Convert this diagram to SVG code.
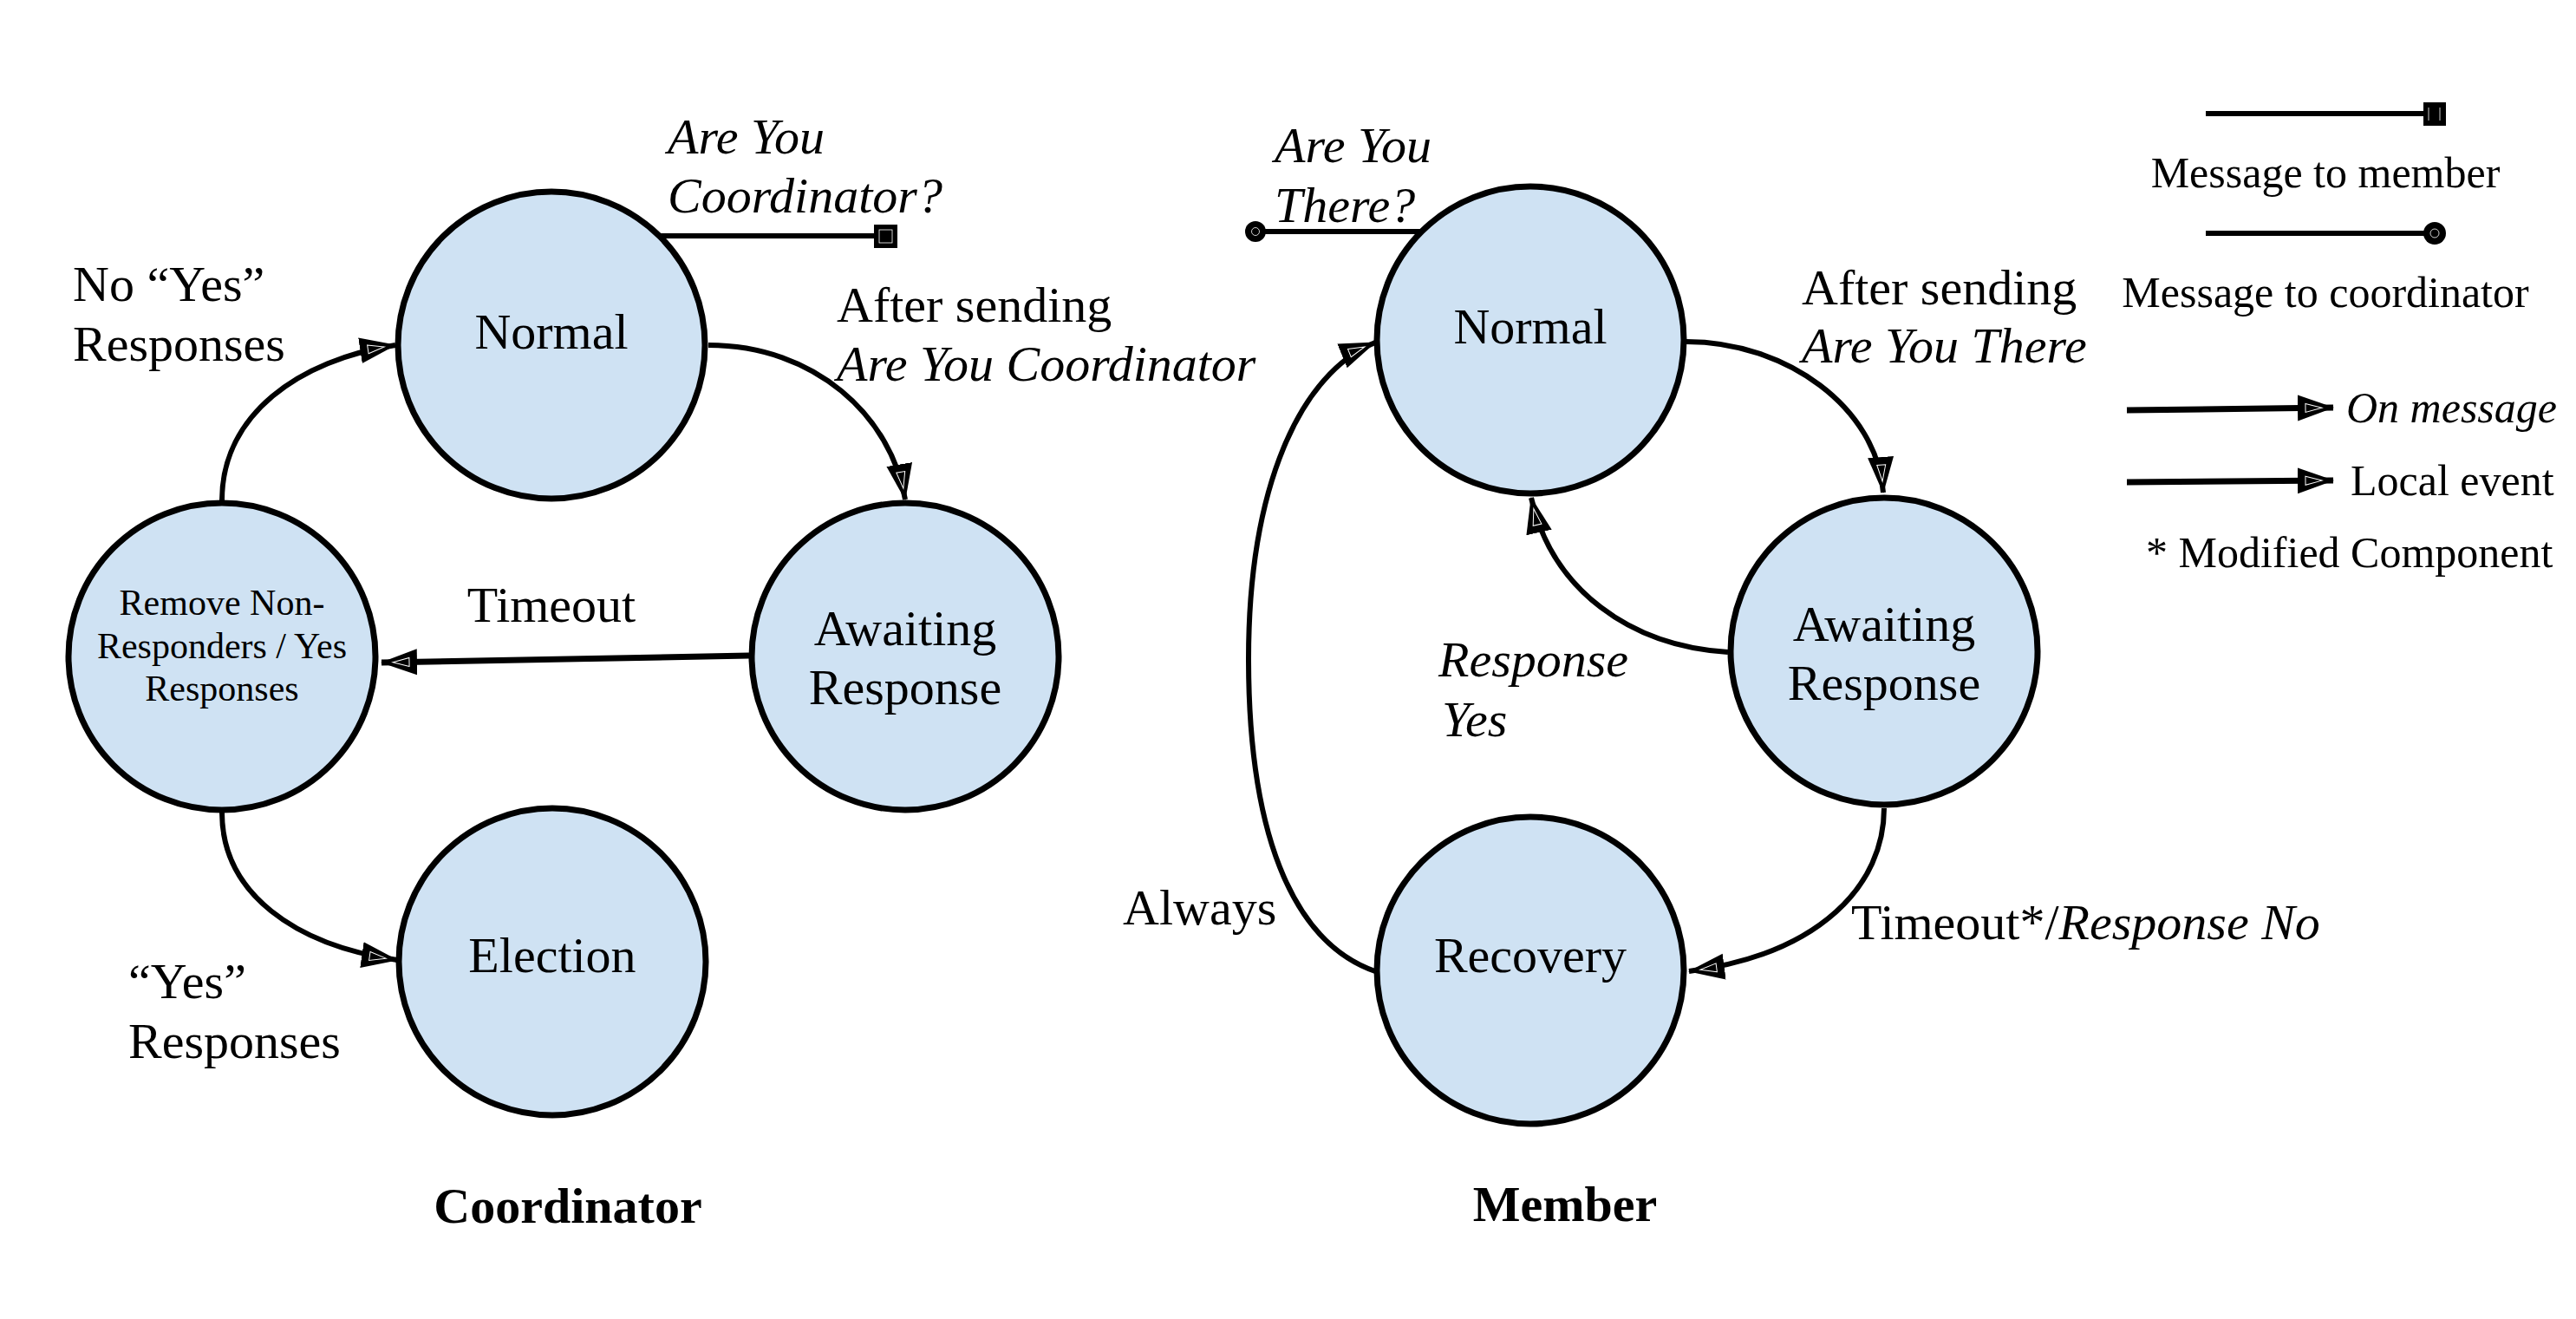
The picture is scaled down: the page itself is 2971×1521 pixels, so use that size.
<svg xmlns="http://www.w3.org/2000/svg" width="2971" height="1521" viewBox="0 0 2971 1521">
<style>
  .node { fill: #cfe2f3; stroke: #000; stroke-width: 7; }
  .t { font-family: "Liberation Serif", "Times New Roman", serif; font-size: 58px; fill: #000; }
  .i { font-style: italic; }
  .m { text-anchor: middle; }
  .small { font-size: 42px; }
  .leg { font-size: 50px; }
  .b { font-weight: bold; }
  .conn { fill: none; stroke: #000; stroke-width: 6; marker-end: url(#arr); }
  .thick { stroke-width: 7; }
  .msg { fill: none; stroke: #000; stroke-width: 6; }
</style>
<defs>
  <marker id="arr" markerUnits="userSpaceOnUse" markerWidth="44" markerHeight="32" viewBox="0 0 44 32" refX="41" refY="16" orient="auto">
    <path d="M0,1 L42,16 L0,31 z" fill="#000"/>
    <path d="M9,11 L28,16 L9,21 z" fill="none" stroke="#fff" stroke-width="1"/>
  </marker>
</defs>
<rect width="2971" height="1521" fill="#fff"/>

<g id="connectors">
  <path class="conn" d="M256,577 C256,478 345,415 456,398"/>
  <path class="conn" d="M817,398 C940,398 1028,480 1044,576"/>
  <path class="conn thick" d="M864,756 L440,764"/>
  <path class="conn" d="M256,937 C256,1030 340,1090 458,1107"/>
  <path class="conn" d="M1945,394 C2060,394 2165,470 2172,568"/>
  <path class="conn" d="M1993,752 C1880,745 1790,680 1766,574"/>
  <path class="conn" d="M2173,932 C2173,1020 2100,1100 1948,1120"/>
  <path class="conn" d="M1586,1120 C1500,1090 1440,980 1440,760 C1440,560 1500,430 1586,395"/>
  <!-- message lines -->
  <line class="msg" x1="760" y1="272" x2="1010" y2="272"/>
  <rect x="1008" y="259" width="27" height="27" fill="#000"/>
  <rect x="1014" y="265" width="15" height="15" fill="none" stroke="#fff" stroke-width="0.8"/>
  <line class="msg" x1="1448" y1="267" x2="1640" y2="267"/>
  <circle cx="1448" cy="267" r="12" fill="#000"/>
  <circle cx="1448" cy="267" r="4.5" fill="none" stroke="#fff" stroke-width="0.8"/>
</g>

<g id="c-normal">
  <circle class="node" cx="636" cy="398" r="177"/>
  <text class="t m" x="636" y="402">Normal</text>
</g>
<g id="c-await">
  <circle class="node" cx="1044" cy="757" r="177"/>
  <text class="t m" x="1044" y="744">Awaiting</text>
  <text class="t m" x="1044" y="812">Response</text>
</g>
<g id="c-remove">
  <circle class="node" cx="256" cy="757" r="177"/>
  <text class="t m small" x="256" y="709">Remove Non-</text>
  <text class="t m small" x="256" y="759">Responders / Yes</text>
  <text class="t m small" x="256" y="808">Responses</text>
</g>
<g id="c-election">
  <circle class="node" cx="637" cy="1109" r="177"/>
  <text class="t m" x="637" y="1121">Election</text>
</g>
<g id="m-normal">
  <circle class="node" cx="1765" cy="392" r="177"/>
  <text class="t m" x="1765" y="396">Normal</text>
</g>
<g id="m-await">
  <circle class="node" cx="2173" cy="751" r="177"/>
  <text class="t m" x="2173" y="739">Awaiting</text>
  <text class="t m" x="2173" y="807">Response</text>
</g>
<g id="m-recovery">
  <circle class="node" cx="1765" cy="1119" r="177"/>
  <text class="t m" x="1765" y="1121">Recovery</text>
</g>

<g id="labels">
  <text class="t i" x="770" y="177">Are You</text>
  <text class="t i" x="770" y="245">Coordinator?</text>
  <text class="t" x="84" y="347">No “Yes”</text>
  <text class="t" x="84" y="416">Responses</text>
  <text class="t" x="965" y="371">After sending</text>
  <text class="t i" x="965" y="439">Are You Coordinator</text>
  <text class="t m" x="636" y="717">Timeout</text>
  <text class="t" x="148" y="1151">“Yes”</text>
  <text class="t" x="148" y="1220">Responses</text>
  <text class="t b m" x="655" y="1410">Coordinator</text>

  <text class="t i" x="1470" y="187">Are You</text>
  <text class="t i" x="1470" y="256">There?</text>
  <text class="t" x="2078" y="351">After sending</text>
  <text class="t i" x="2078" y="418">Are You There</text>
  <text class="t i" x="1659" y="780">Response</text>
  <text class="t i" x="1663" y="849">Yes</text>
  <text class="t" x="1295" y="1066">Always</text>
  <text class="t" x="2135" y="1083">Timeout*/<tspan font-style="italic">Response No</tspan></text>
  <text class="t b m" x="1805" y="1408">Member</text>
</g>

<g id="legend">
  <line class="msg" x1="2544" y1="131" x2="2797" y2="131"/>
  <rect x="2795" y="118" width="26" height="27" fill="#000"/>
  <line x1="2801" y1="124" x2="2801" y2="139" stroke="#fff" stroke-width="0.8"/>
  <line x1="2814" y1="124" x2="2814" y2="139" stroke="#fff" stroke-width="0.8"/>
  <text class="t leg m" x="2682" y="216">Message to member</text>
  <line class="msg" x1="2544" y1="269" x2="2808" y2="269"/>
  <circle cx="2808" cy="269" r="13" fill="#000"/>
  <circle cx="2808" cy="269" r="5" fill="none" stroke="#fff" stroke-width="0.8"/>
  <text class="t leg m" x="2682" y="354">Message to coordinator</text>
  <path class="conn thick" d="M2453,473 L2691,470"/>
  <text class="t leg i" x="2706" y="487">On message</text>
  <path class="conn thick" d="M2453,556 L2691,554"/>
  <text class="t leg" x="2711" y="571">Local event</text>
  <text class="t leg" x="2475" y="654">* Modified Component</text>
</g>
</svg>
